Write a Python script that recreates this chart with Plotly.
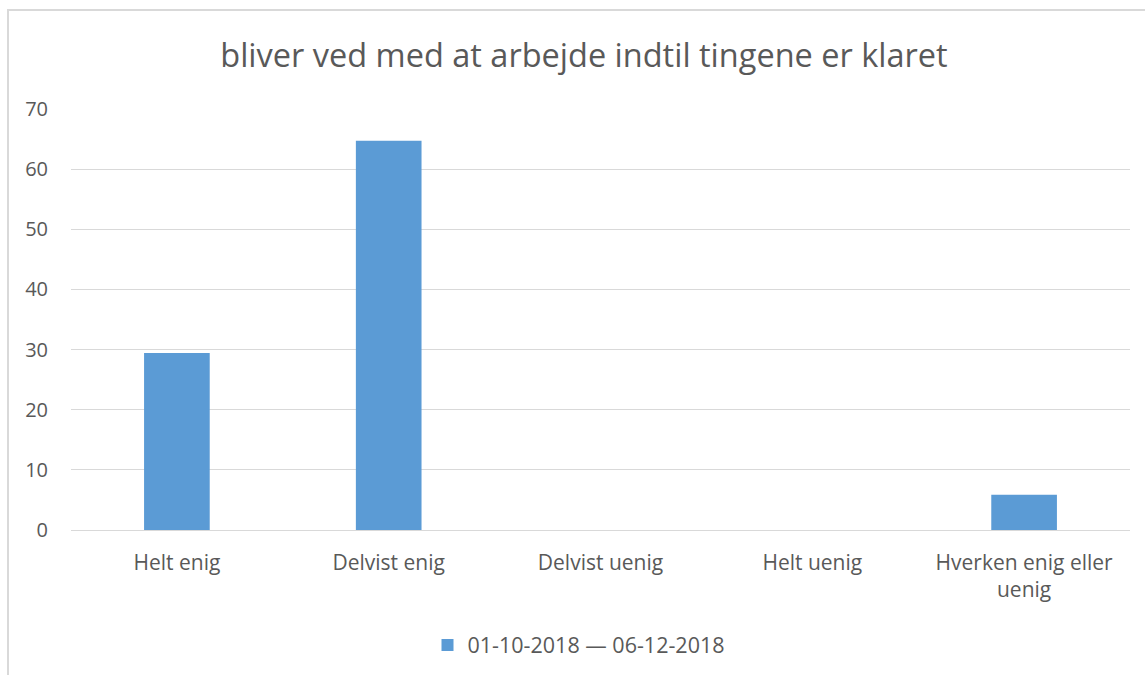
import plotly.graph_objects as go

categories = ["Helt enig", "Delvist enig", "Delvist uenig", "Helt uenig", "Hverken enig eller<br>uenig"]
values = [29.41, 64.71, 0, 0, 5.88]
series_name = "01-10-2018 — 06-12-2018"
title_text = "bliver ved med at arbejde indtil tingene er klaret"

W, H = 1145, 675
L, R, T, B = 71, 15, 109, 145
pw, ph = W - L - R, H - T - B

def px_x(x):
    return (x - L) / pw

def px_y(y):
    return (H - B - y) / ph

fig = go.Figure()
fig.add_trace(go.Bar(
    x=categories, y=values, name=series_name,
    marker=dict(color="#5b9bd5", line=dict(width=0)),
    width=0.31,
))

fig.update_layout(
    width=W, height=H,
    margin=dict(l=L, r=R, t=T, b=B, autoexpand=False),
    paper_bgcolor="white", plot_bgcolor="white",
    font=dict(family="Open Sans", color="#595959", size=20),
    title=dict(text=title_text, x=584 / W, xanchor="center", y=1 - 56 / H, yanchor="middle",
               font=dict(size=32.5, color="#595959", family="Open Sans")),
    showlegend=True,
    legend=dict(orientation="h", x=px_x(587 - 8), xanchor="center", y=px_y(645), yanchor="middle",
                font=dict(size=21.5, color="#595959"), itemwidth=30),
    shapes=[dict(type="rect", xref="paper", yref="paper",
                 x0=px_x(8), x1=px_x(1160), y0=px_y(700), y1=px_y(10),
                 line=dict(color="#d9d9d9", width=2), fillcolor="rgba(0,0,0,0)", layer="below")],
)
fig.update_xaxes(showgrid=False, showline=False, ticks="", tickfont=dict(size=21, color="#595959"),
                 ticklabelstandoff=18, automargin=False)
fig.update_yaxes(range=[0, 70], dtick=10, showgrid=True, gridcolor="#d9d9d9", gridwidth=1,
                 zeroline=True, zerolinecolor="#d9d9d9", zerolinewidth=1, showline=False,
                 ticks="", tickfont=dict(size=20, color="#595959"), ticklabelstandoff=22,
                 automargin=False)

fig.write_html("out.html", config={"displayModeBar": False},
               post_script="document.body.style.margin='0';")
